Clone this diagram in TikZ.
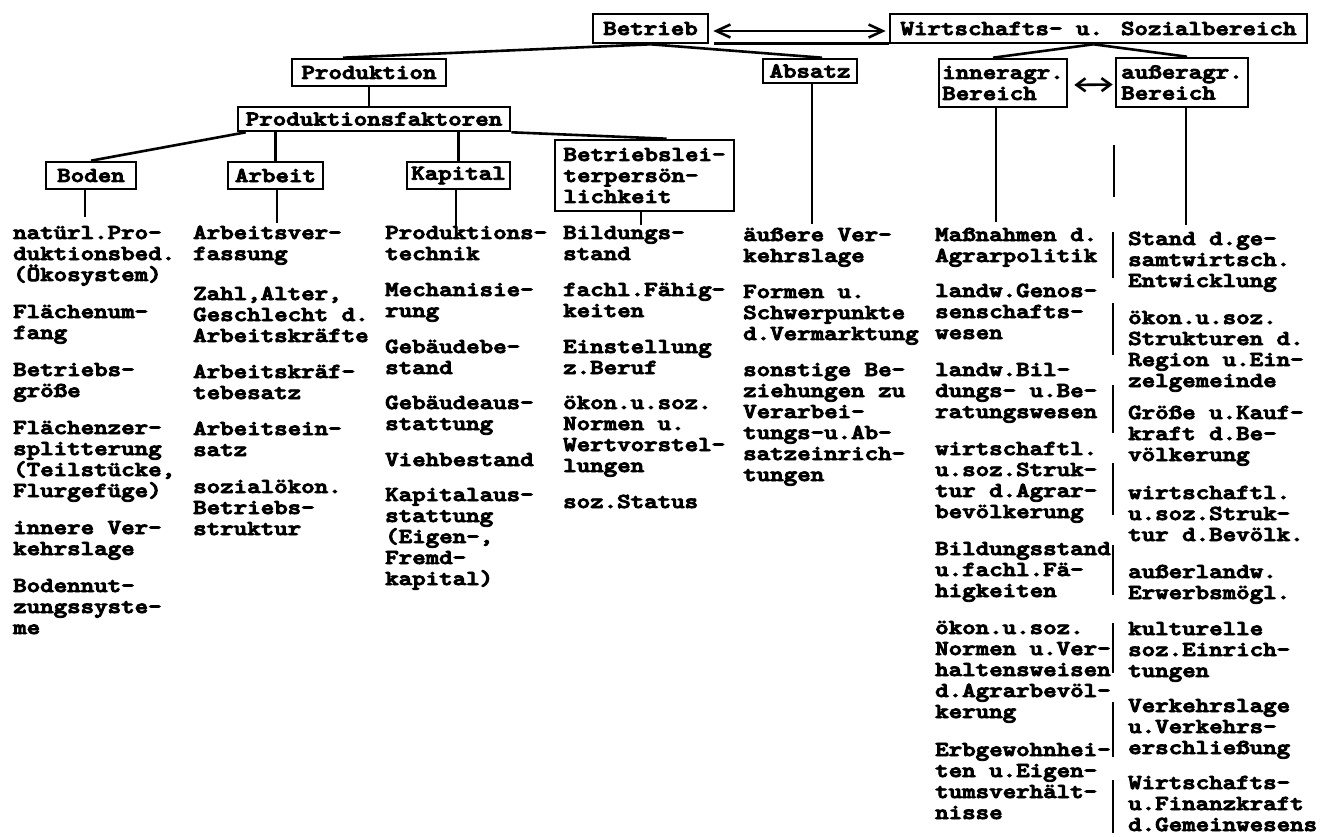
\documentclass[tikz,border=0pt]{standalone}
\usepackage{graphicx}
\usetikzlibrary{arrows.meta,calc}
\font\twfont="[lmmonolt10-bold.otf]:embolden=4" at 21.3pt
\newcommand\itm[1]{\scalebox{1.207}[1]{\vtop{\baselineskip=21pt\lineskiplimit=-100pt\halign{##\hfil\cr#1\crcr}}}}
\begin{document}
\begin{tikzpicture}[x=1pt,y=-1pt,
  every node/.style={font=\twfont},
  txt/.style={anchor=base west,inner sep=0pt},
  box/.style={draw,line width=2.6pt,inner sep=0pt},
  link/.style={line width=2.6pt},
  bigarrow/.style={line width=2.6pt,{Straight Barb[length=14pt,width=13pt]}-{Straight Barb[length=14pt,width=13pt]}},
  smallarrow/.style={line width=2.6pt,{Straight Barb[length=9pt,width=13pt]}-{Straight Barb[length=9pt,width=13pt]}},
  sep/.style={line width=2.6pt}]
\fill[white] (0,0) rectangle (1320,837);
\useasboundingbox (0,0) rectangle (1320,837);

% boxes
\node[box,minimum width=115pt,minimum height=29pt] (betrieb) at (650.5,28.5) {\itm{Betrieb}};
\node[box,minimum width=417pt,minimum height=29pt] (wirt) at (1098.5,28.5) {\itm{Wirtschafts- u. Sozialbereich}};
\node[box,minimum width=154pt,minimum height=27pt] (prod) at (369,72.5) {\itm{Produktion}};
\node[box,minimum width=272pt,minimum height=24pt] (pf) at (374,119) {\itm{Produktionsfaktoren}};
\node[box,minimum width=94pt,minimum height=24pt] (absatz) at (810,71) {\itm{Absatz}};
\node[box,minimum width=128pt,minimum height=48pt] (inner) at (1003,83) {\itm{inneragr.\cr Bereich}};
\node[box,minimum width=132pt,minimum height=49pt] (ausser) at (1182,82.5) {\itm{außeragr.\cr Bereich}};
\node[box,minimum width=90pt,minimum height=27pt] (boden) at (91,175.5) {\itm{Boden}};
\node[box,minimum width=95pt,minimum height=27pt] (arbeit) at (275.5,175.5) {\itm{Arbeit}};
\node[box,minimum width=103pt,minimum height=27pt] (kapital) at (458.5,175.5) {\itm{Kapital}};
\node[box,minimum width=179pt,minimum height=71pt] (leiter) at (644.5,175.5) {\itm{Betriebslei-\cr terpersön-\cr lichkeit}};

% connectors
\draw[link] (betrieb.south) -- ($(prod.north)+(-26,0)$);
\draw[link] (betrieb.south) -- ($(absatz.north)+(12,0)$);
\draw[link] (prod.south) -- (prod.south |- pf.north);
\draw[link] ($(pf.south west)+(9,0)$) -- (boden.north);
\draw[link] (arbeit.north |- pf.south) -- (arbeit.north);
\draw[link] (kapital.north |- pf.south) -- (kapital.north);
\draw[link] (pf.south east) -- ($(leiter.north)+(22,0)$);
\draw[link] ($(wirt.south)+(-5,0)$) -- ($(inner.north)+(-10,0)$);
\draw[link] ($(wirt.south)+(-5,0)$) -- ($(ausser.north)+(5,0)$);
\draw[bigarrow,shorten <=4pt,shorten >=3pt] ($(betrieb.east)+(0,2.5)$) -- ($(wirt.west)+(0,2.5)$);
\draw[link] ($(betrieb.south east)+(5,-1)$) -- ($(wirt.south west)+(0,-1)$);
\draw[smallarrow,shorten <=6pt,shorten >=2pt] ($(inner.east)+(0,2)$) -- ($(ausser.west)+(0,2)$);

% drop lines
\coordinate (bodenEnd) at (85,217);
\coordinate (arbeitEnd) at (277,223);
\coordinate (kapitalEnd) at (456,228);
\coordinate (leiterEnd) at (641,225);
\coordinate (absatzEnd) at (812,224);
\coordinate (innerEnd) at (996,222);
\coordinate (ausserEnd) at (1186,225);
\draw[link] (boden.south -| bodenEnd) -- (bodenEnd);
\draw[link] (arbeit.south -| arbeitEnd) -- (arbeitEnd);
\draw[link] (kapital.south -| kapitalEnd) -- (kapitalEnd);
\draw[link] (leiter.south -| leiterEnd) -- (leiterEnd);
\draw[link] (absatz.south -| absatzEnd) -- (absatzEnd);
\draw[link] (inner.south -| innerEnd) -- (innerEnd);
\draw[link] (ausser.south -| ausserEnd) -- (ausserEnd);

% separator bars
\draw[sep] (1114,145) -- (1114,197) (1113,232) -- (1113,278) (1113,303) -- (1113,355)
  (1113,385) -- (1113,433) (1113,463) -- (1113,515) (1113,545) -- (1113,595)
  (1113,623) -- (1113,673) (1113,702) -- (1113,757) (1113,780) -- (1113,833);

% column 1: Boden
\node[txt] (b1) at (13,239) {\itm{natürl.Pro-\cr duktionsbed.\cr (Ökosystem)}};
\node[txt] (b2) at (13,318) {\itm{Flächenum-\cr fang}};
\node[txt] (b3) at (13,376) {\itm{Betriebs-\cr größe}};
\node[txt] (b4) at (13,434) {\itm{Flächenzer-\cr splitterung\cr (Teilstücke,\cr Flurgefüge)}};
\node[txt] (b5) at (13,534) {\itm{innere Ver-\cr kehrslage}};
\node[txt] (b6) at (13,592) {\itm{Bodennut-\cr zungssyste-\cr me}};

% column 2: Arbeit
\node[txt] (a1) at (193,239) {\itm{Arbeitsver-\cr fassung}};
\node[txt] (a2) at (193,300) {\itm{Zahl,Alter,\cr Geschlecht d.\cr Arbeitskräfte}};
\node[txt] (a3) at (193,378) {\itm{Arbeitskräf-\cr tebesatz}};
\node[txt] (a4) at (193,435) {\itm{Arbeitsein-\cr satz}};
\node[txt] (a5) at (193,493) {\itm{sozialökon.\cr Betriebs-\cr struktur}};

% column 3: Kapital
\node[txt] (k1) at (385,239) {\itm{Produktions-\cr technik}};
\node[txt] (k2) at (385,296) {\itm{Mechanisie-\cr rung}};
\node[txt] (k3) at (385,353) {\itm{Gebäudebe-\cr stand}};
\node[txt] (k4) at (385,409) {\itm{Gebäudeaus-\cr stattung}};
\node[txt] (k5) at (385,466) {\itm{Viehbestand}};
\node[txt] (k6) at (385,501) {\itm{Kapitalaus-\cr stattung\cr (Eigen-,\cr Fremd-\cr kapital)}};

% column 4: Betriebsleiterpersoenlichkeit
\node[txt] (l1) at (563,239) {\itm{Bildungs-\cr stand}};
\node[txt] (l2) at (563,296) {\itm{fachl.Fähig-\cr keiten}};
\node[txt] (l3) at (563,353) {\itm{Einstellung\cr z.Beruf}};
\node[txt] (l4) at (563,409) {\itm{ökon.u.soz.\cr Normen u.\cr Wertvorstel-\cr lungen}};
\node[txt] (l5) at (563,508) {\itm{soz.Status}};

% column 5: Absatz
\node[txt] (s1) at (743,241) {\itm{äußere Ver-\cr kehrslage}};
\node[txt] (s2) at (743,298) {\itm{Formen u.\cr Schwerpunkte\cr d.Vermarktung}};
\node[txt] (s3) at (743,376) {\itm{sonstige Be-\cr ziehungen zu\cr Verarbei-\cr tungs-u.Ab-\cr satzeinrich-\cr tungen}};

% column 6: inneragr. Bereich
\node[txt] (i1) at (935,241) {\itm{Maßnahmen d.\cr Agrarpolitik}};
\node[txt] (i2) at (935,297) {\itm{landw.Genos-\cr senschafts-\cr wesen}};
\node[txt] (i3) at (935,376) {\itm{landw.Bil-\cr dungs- u.Be-\cr ratungswesen}};
\node[txt] (i4) at (935,455) {\itm{wirtschaftl.\cr u.soz.Struk-\cr tur d.Agrar-\cr bevölkerung}};
\node[txt] (i5) at (935,555) {\itm{Bildungsstand\cr u.fachl.Fä-\cr higkeiten}};
\node[txt] (i6) at (935,634) {\itm{ökon.u.soz.\cr Normen u.Ver-\cr haltensweisen\cr d.Agrarbevöl-\cr kerung}};
\node[txt] (i7) at (935,756) {\itm{Erbgewohnhei-\cr ten u.Eigen-\cr tumsverhält-\cr nisse}};

% column 7: ausseragr. Bereich
\node[txt] (o1) at (1128,245) {\itm{Stand d.ge-\cr samtwirtsch.\cr Entwicklung}};
\node[txt] (o2) at (1128,324) {\itm{ökon.u.soz.\cr Strukturen d.\cr Region u.Ein-\cr zelgemeinde}};
\node[txt] (o3) at (1128,419) {\itm{Größe u.Kauf-\cr kraft d.Be-\cr völkerung}};
\node[txt] (o4) at (1128,499) {\itm{wirtschaftl.\cr u.soz.Struk-\cr tur d.Bevölk.}};
\node[txt] (o5) at (1128,578) {\itm{außerlandw.\cr Erwerbsmögl.}};
\node[txt] (o6) at (1128,635) {\itm{kulturelle\cr soz.Einrich-\cr tungen}};
\node[txt] (o7) at (1128,712) {\itm{Verkehrslage\cr u.Verkehrs-\cr erschließung}};
\node[txt] (o8) at (1128,789) {\itm{Wirtschafts-\cr u.Finanzkraft\cr d.Gemeinwesens}};
\end{tikzpicture}
\end{document}
